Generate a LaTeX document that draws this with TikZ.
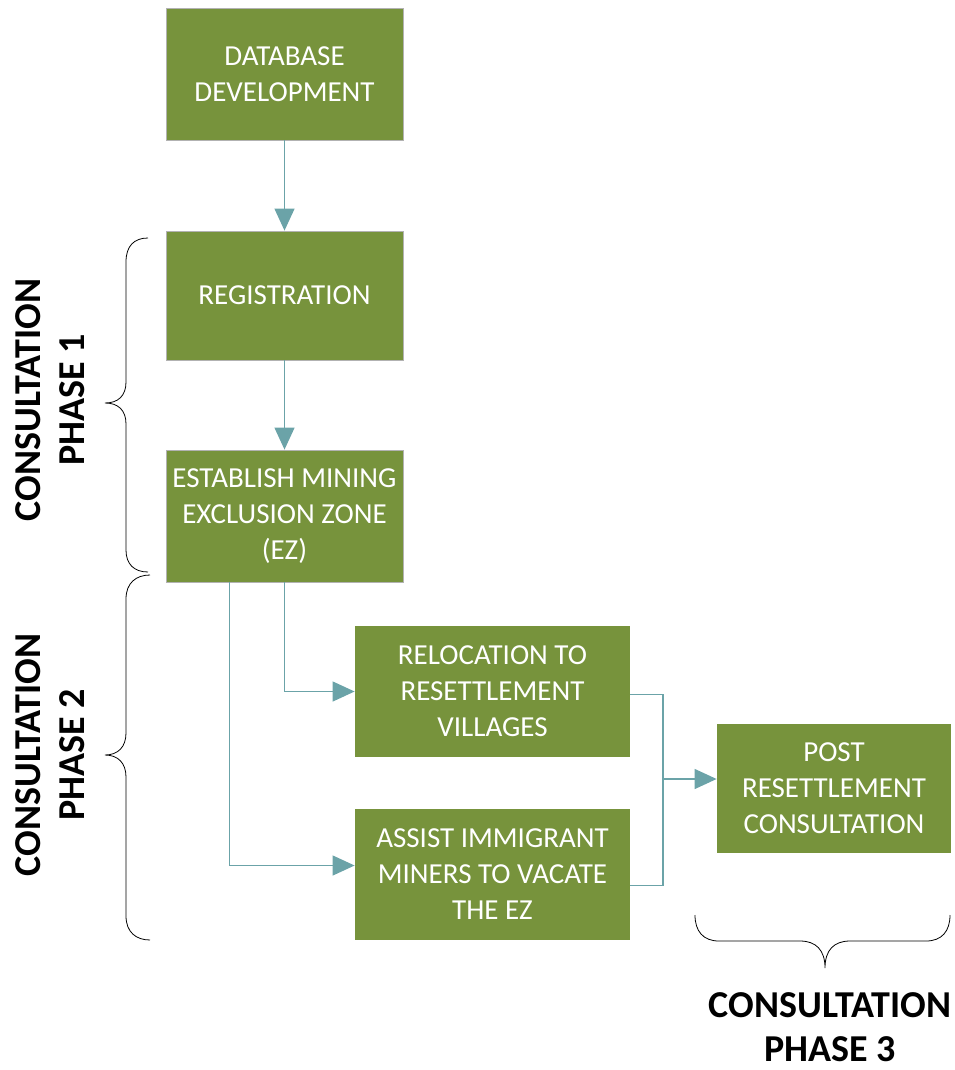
\documentclass[tikz,border=0pt]{standalone}
\usepackage{fontspec}
\setmainfont{Carlito}
\usepackage{tikz}
\usetikzlibrary{arrows.meta}
\usetikzlibrary{calc}

\definecolor{boxgreen}{RGB}{119,147,60}
\definecolor{linkteal}{RGB}{107,163,168}

\begin{document}
\begin{tikzpicture}[x=1pt,y=1pt,yscale=-1]
            \tikzstyle{every node}=[font=\fontsize{29}{36}\selectfont]
            \tikzstyle{stepbox}=[fill=boxgreen,draw=gray!60,line width=0.8,text=white,align=center,inner sep=0pt]
            \tikzstyle{link}=[draw=linkteal,line width=1.3,-{Triangle[length=22pt,width=20pt]}]
            \tikzstyle{plain link}=[draw=linkteal,line width=1.3]
            \tikzstyle{phase}=[font=\fontsize{38}{44}\selectfont\bfseries,align=center,inner sep=0pt]
            \useasboundingbox (0,0) rectangle (954,1070);

            % Boxes
            \node [stepbox,minimum width=237,minimum height=132] (db) at (284.5,74) {DATABASE\\DEVELOPMENT};
            \node [stepbox,minimum width=237,minimum height=129] (reg) at (284.5,295.5) {REGISTRATION};
            \node [stepbox,minimum width=237,minimum height=132] (ez) at (284.5,516) {ESTABLISH MINING\\EXCLUSION ZONE\\(EZ)};
            \node [stepbox,draw=none,minimum width=275,minimum height=131] (reloc) at (492.5,691.5) {RELOCATION TO\\RESETTLEMENT\\VILLAGES};
            \node [stepbox,draw=none,minimum width=275,minimum height=131] (assist) at (492.5,874.5) {ASSIST IMMIGRANT\\MINERS TO VACATE\\THE EZ};
            \node [stepbox,draw=none,minimum width=234,minimum height=129] (post) at (834,788.5) {POST\\RESETTLEMENT\\CONSULTATION};

            % Connectors
            \draw [link] (db.south) -- (reg.north);
            \draw [link] (reg.south) -- (ez.north);
            \draw [link] (ez.south) |- (reloc.west);
            \draw [link] ($(ez.south)+(-55,0)$) |- ($(assist.west)+(0,-9)$);
            \coordinate (join) at (663,779);
            \draw [plain link] ($(reloc.east)+(0,3)$) -| (join) |- ($(assist.east)+(0,11)$);
            \draw [link] (join) -- (join -| post.west);

            % Braces
            \draw [line width=0.8] (148,238) .. controls (134,238) and (126,246) .. (126,262) -- (126,382) .. controls (126,396) and (118,403) .. (105,403) .. controls (118,403) and (126,410) .. (126,424) -- (126,550) .. controls (126,564) and (134,572) .. (148,572);
            \draw [line width=0.8] (150,575) .. controls (136,575) and (126,583) .. (126,599) -- (126,733) .. controls (126,747) and (118,755) .. (105,755) .. controls (118,755) and (126,763) .. (126,777) -- (126,916) .. controls (126,932) and (136,940) .. (150,940);
            \draw [line width=0.8] (695,915) .. controls (695,931) and (703,941) .. (719,941) -- (800,941) .. controls (816,941) and (825,950) .. (825,968) .. controls (825,950) and (834,941) .. (850,941) -- (926,941) .. controls (942,941) and (950,931) .. (950,915);

            % Text Node
            \node [phase,rotate=90] (p1) at (50,400) {CONSULTATION\\PHASE 1};
            \node [phase,rotate=90] (p2) at (50,755) {CONSULTATION\\PHASE 2};
            \node [phase] (p3) at (830,1027) {CONSULTATION\\PHASE 3};
\end{tikzpicture}
\end{document}
